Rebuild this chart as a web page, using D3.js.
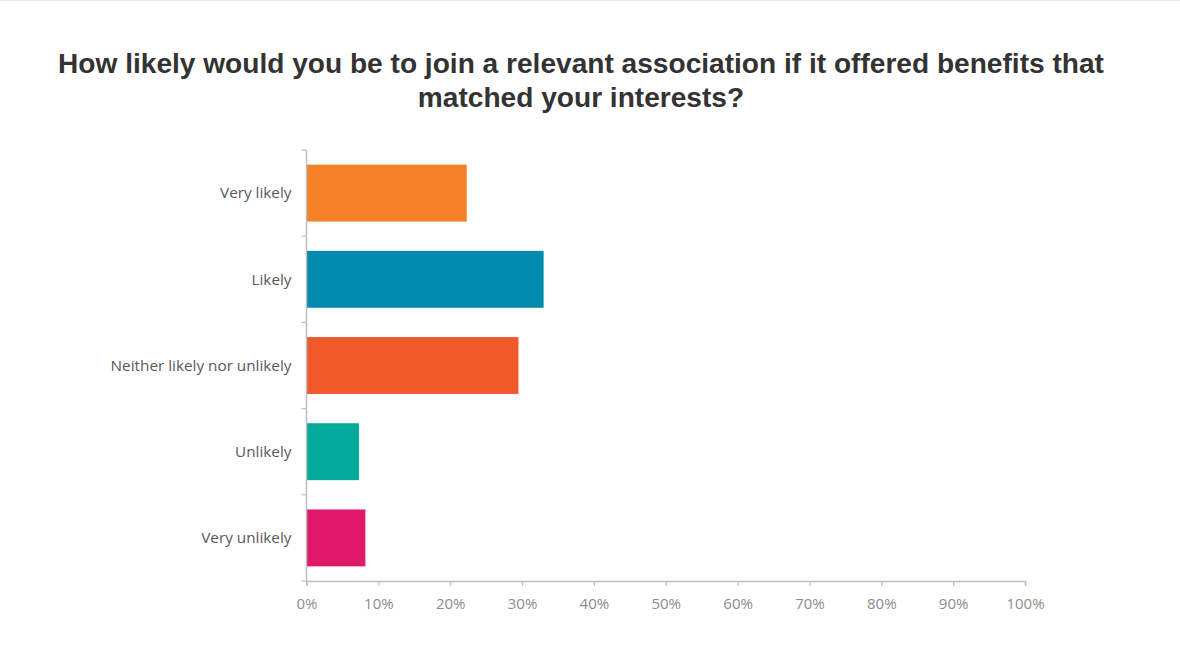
<!DOCTYPE html>
<html>
<head>
<meta charset="utf-8">
<script src="https://cdn.jsdelivr.net/npm/d3@7"></script>
<style>
  html, body { margin: 0; padding: 0; background: #fff; }
  svg { display: block; }
</style>
</head>
<body>
<svg id="chart" width="1180" height="670"></svg>
<script>
// Survey responses
const categories = ["Very likely", "Likely", "Neither likely nor unlikely", "Unlikely", "Very unlikely"];
const shares = [22.3, 33.0, 29.5, 7.3, 8.2];
const barColors = ["#f58025", "#008aad", "#f05a2b", "#00a99a", "#e0196b"];
const xTicks = [0, 10, 20, 30, 40, 50, 60, 70, 80, 90, 100];
const titleLines = [
  "How likely would you be to join a relevant association if it offered benefits that",
  "matched your interests?"
];

const W = 1180, H = 670;
const margin = { top: 150, right: 155, bottom: 89, left: 306.5 };
const svg = d3.select("#chart");

// thin rule along the top edge
svg.append("line")
  .attr("x1", 0).attr("x2", W).attr("y1", 0.5).attr("y2", 0.5)
  .attr("stroke", "#e6e6e6").attr("stroke-width", 1);

const title = svg.append("text")
  .attr("text-anchor", "middle")
  .attr("font-family", "'Liberation Sans', Arial, sans-serif")
  .attr("font-weight", "bold")
  .attr("font-size", 28.1)
  .attr("fill", "#333333");
title.selectAll("tspan").data(titleLines).join("tspan")
  .attr("x", 581)
  .attr("y", (d, i) => 73 + i * 34)
  .text(d => d);

const x = d3.scaleLinear().domain([0, 100]).range([margin.left, W - margin.right]);
const y = d3.scaleBand().domain(categories)
  .range([margin.top, H - margin.bottom])
  .paddingInner(0.34).paddingOuter(0.17);

const axisColor = "#bfbfbf";
const g = svg.append("g");

// bars
g.selectAll("rect.bar").data(categories).join("rect")
  .attr("class", "bar")
  .attr("x", x(0))
  .attr("y", d => y(d))
  .attr("width", (d, i) => x(shares[i]) - x(0))
  .attr("height", y.bandwidth())
  .attr("fill", (d, i) => barColors[i]);

// category axis: boundaries between bands carry the tick marks
const yAxisG = g.append("g");
const bounds = categories.map(c => y(c) - y.step() * y.paddingInner() / 2)
  .concat([H - margin.bottom]);
yAxisG.selectAll("line.tick").data(bounds).join("line")
  .attr("x1", margin.left - 5).attr("x2", margin.left)
  .attr("y1", d => d).attr("y2", d => d)
  .attr("stroke", axisColor).attr("stroke-width", 1.2);
yAxisG.append("line")
  .attr("x1", margin.left).attr("x2", margin.left)
  .attr("y1", margin.top).attr("y2", H - margin.bottom)
  .attr("stroke", axisColor).attr("stroke-width", 1.5);
yAxisG.selectAll("text").data(categories).join("text")
  .attr("x", margin.left - 15)
  .attr("y", d => y(d) + y.bandwidth() / 2)
  .attr("dy", "0.35em")
  .attr("text-anchor", "end")
  .attr("font-family", "'Open Sans', 'DejaVu Sans', sans-serif")
  .attr("font-size", 15.3)
  .attr("fill", "#595959")
  .text(d => d);

// value axis
const xAxis = d3.axisBottom(x).tickValues(xTicks).tickFormat(d => d + "%").tickSize(5).tickPadding(12);
const xAxisG = g.append("g")
  .attr("transform", `translate(0,${H - margin.bottom})`)
  .call(xAxis);
xAxisG.select(".domain").attr("stroke", axisColor).attr("stroke-width", 1.5);
xAxisG.selectAll(".tick line").attr("stroke", axisColor).attr("stroke-width", 1.2);
xAxisG.selectAll(".tick text")
  .attr("font-family", "'Open Sans', 'DejaVu Sans', sans-serif")
  .attr("font-size", 15)
  .attr("fill", "#8c8c8c");
</script>
</body>
</html>
